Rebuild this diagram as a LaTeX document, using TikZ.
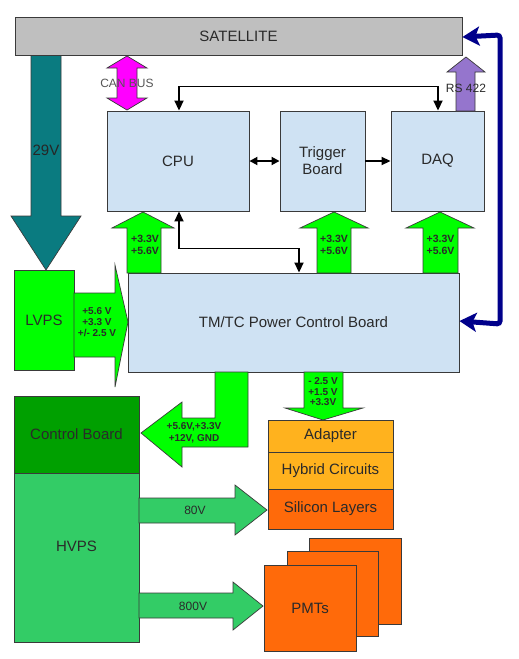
\documentclass[tikz,border=0pt]{standalone}
\usepackage{fontspec}
\setmainfont{Liberation Sans}
\usetikzlibrary{arrows.meta,calc}
\definecolor{satgray}{HTML}{BFBFBF}
\definecolor{boxblue}{HTML}{CFE2F3}
\definecolor{edge}{HTML}{3A3A3A}
\definecolor{txt}{HTML}{2A2A2A}
\definecolor{brightgreen}{HTML}{00FF00}
\definecolor{tealc}{HTML}{0A7B80}
\definecolor{magentac}{HTML}{FF00FF}
\definecolor{purplec}{HTML}{9575CD}
\definecolor{navyc}{HTML}{00008B}
\definecolor{ctrlgreen}{HTML}{00A000}
\definecolor{hvgreen}{HTML}{33CC66}
\definecolor{lightorange}{HTML}{FFB21E}
\definecolor{deeporange}{HTML}{FF6A0A}
\tikzset{
  bigfont/.style={font=\fontsize{15}{17}\selectfont, text=txt},
  box/.style={draw=edge, line width=0.9pt, inner sep=0pt, bigfont, align=center},
  bluebox/.style={box, fill=boxblue},
  blockarrow/.style={draw=edge, line width=0.7pt},
  smalllabel/.style={font=\fontsize{10.5}{12}\selectfont\bfseries, text=txt, align=center, inner sep=0pt},
  midlabel/.style={font=\fontsize{12}{14}\selectfont, text=txt, inner sep=0pt},
  link/.style={line width=1.8pt, black, {Triangle[length=10pt,width=9pt]}-{Triangle[length=10pt,width=9pt]}},
  linkone/.style={line width=1.8pt, black, -{Triangle[length=9pt,width=8pt]}},
}
\begin{document}
\begin{tikzpicture}[x=1pt,y=-1pt]
\useasboundingbox (0,0) rectangle (519,659);

% big arrows behind boxes
\draw[blockarrow, fill=tealc] (31,55) -- (61,55) -- (61,216) -- (81,216) -- (46,270) -- (11,216) -- (31,216) -- cycle;
\node[bigfont, text=black!85, inner sep=0pt] (v29) at (46,150) {29V};

\node[box, fill=satgray, minimum width=447pt, minimum height=38pt] (sat) at (238.5,36) {SATELLITE};

\node[bluebox, minimum width=142pt, minimum height=100pt] (cpu) at (178,161) {CPU};
\node[bluebox, minimum width=85pt, minimum height=100pt] (trig) at (322.5,161) {Trigger\\Board};
\node[bluebox, minimum width=93pt, minimum height=100pt] (daq) at (437.5,161) {DAQ};
\node[bluebox, minimum width=331pt, minimum height=99pt] (tmtc) at (293.5,322.5) {TM/TC Power Control Board};
\node[box, fill=brightgreen, minimum width=60pt, minimum height=100pt] (lvps) at (44,320) {LVPS};
\node[box, fill=ctrlgreen, minimum width=125pt, minimum height=77pt] (ctrl) at (76.5,434.5) {Control Board};
\node[box, fill=hvgreen, minimum width=125pt, minimum height=169pt, label={[bigfont, yshift=11pt]center:HVPS}] (hvps) at (76.5,557.5) {};
\node[box, fill=lightorange, minimum width=125pt, minimum height=32pt] (adapter) at (330.5,436) {Adapter};
\node[box, fill=lightorange, minimum width=125pt, minimum height=37pt] (hybrid) at (330.5,470.5) {Hybrid Circuits};
\node[box, fill=deeporange, minimum width=125pt, minimum height=40pt] (silicon) at (330.5,509) {Silicon Layers};
\node[box, fill=deeporange, minimum width=92pt, minimum height=86pt] (pmtc) at (355,581) {};
\node[box, fill=deeporange, minimum width=91pt, minimum height=85pt] (pmtb) at (332.5,593.5) {};
\node[box, fill=deeporange, minimum width=92pt, minimum height=86pt] (pmta) at (310,608) {PMTs};

% CAN BUS
\draw[blockarrow, fill=magentac] (127,56) -- (147,68) -- (137,68) -- (137,98) -- (147,98) -- (127,110) -- (107,98) -- (117,98) -- (117,68) -- (107,68) -- cycle;
\node[midlabel, text=txt!80] (canbus) at (127,83) {CAN BUS};

% RS 422
\draw[blockarrow, fill=purplec] (466,57) -- (485,72) -- (475,72) -- (475,111) -- (456,111) -- (456,72) -- (447,72) -- cycle;
\node[midlabel] (rs) at (466,88) {RS 422};

% green up arrows
\draw[blockarrow, fill=brightgreen] (143,212) -- (174,228) -- (161,228) -- (161,273) -- (127,273) -- (127,228) -- (112,228) -- cycle;
\node[smalllabel] (pw1) at (145,245) {+3.3V\\+5.6V};
\draw[blockarrow, fill=brightgreen] (334,212) -- (368,228) -- (351,228) -- (351,273) -- (317,273) -- (317,228) -- (300,228) -- cycle;
\node[smalllabel] (pw2) at (334,245) {+3.3V\\+5.6V};
\draw[blockarrow, fill=brightgreen] (440,212) -- (474,228) -- (458,228) -- (458,273) -- (423,273) -- (423,228) -- (406,228) -- cycle;
\node[smalllabel] (pw3) at (440.5,245) {+3.3V\\+5.6V};

% LVPS arrow
\draw[blockarrow, fill=brightgreen] (74,293) -- (115,293) -- (115,265) -- (128,322) -- (115,387) -- (115,357) -- (74,357) -- cycle;
\node[smalllabel, font=\fontsize{10}{11}\selectfont\bfseries] (pwl) at (97,322) {+5.6 V\\+3.3 V\\+/- 2.5 V};

% L-arrow to control board
\draw[blockarrow, fill=brightgreen] (215,372) -- (248,372) -- (248,447) -- (182,447) -- (182,467) -- (141,433) -- (182,402) -- (182,418) -- (215,418) -- cycle;
\node[smalllabel, font=\fontsize{10}{12}\selectfont\bfseries] (pwc) at (194,433) {+5.6V,+3.3V\\+12V, GND};

% down arrow to adapter
\draw[blockarrow, fill=brightgreen] (304,372) -- (343,372) -- (343,408) -- (363,408) -- (323,420) -- (285,408) -- (304,408) -- cycle;
\node[smalllabel, font=\fontsize{10}{10.5}\selectfont\bfseries] (pwa) at (323,392) {- 2.5 V\\+1.5 V\\+3.3V};

% HV arrows
\draw[blockarrow, fill=hvgreen] (139,498) -- (235,498) -- (235,485) -- (267,510) -- (235,535) -- (235,523) -- (139,523) -- cycle;
\node[midlabel] (v80) at (195,510) {80V};
\draw[blockarrow, fill=hvgreen] (139,593) -- (233,593) -- (233,582) -- (263,606) -- (233,630) -- (233,618) -- (139,618) -- cycle;
\node[midlabel] (v800) at (193,606) {800V};

% black links
\draw[link] ([xshift=1pt]cpu.north) -- ++(0,-24) -| ([xshift=0.5pt]daq.north);
\draw[link] ([xshift=1pt]cpu.south) -- ++(0,37) -| ([xshift=5.5pt]tmtc.north);
\draw[link, {Triangle[length=8pt,width=8pt]}-{Triangle[length=8pt,width=8pt]}] (cpu.east) -- (trig.west);
\draw[linkone] (trig.east) -- (daq.west);

% blue link
\draw[line width=5pt, navyc, rounded corners=3pt, {Stealth[length=17pt,width=19pt,inset=4pt]}-{Stealth[length=17pt,width=19pt,inset=4pt]}] ([yshift=1.5pt]tmtc.east) -- (500,324) -- (500,35) -- ([yshift=-1pt]sat.east);
\end{tikzpicture}
\end{document}
